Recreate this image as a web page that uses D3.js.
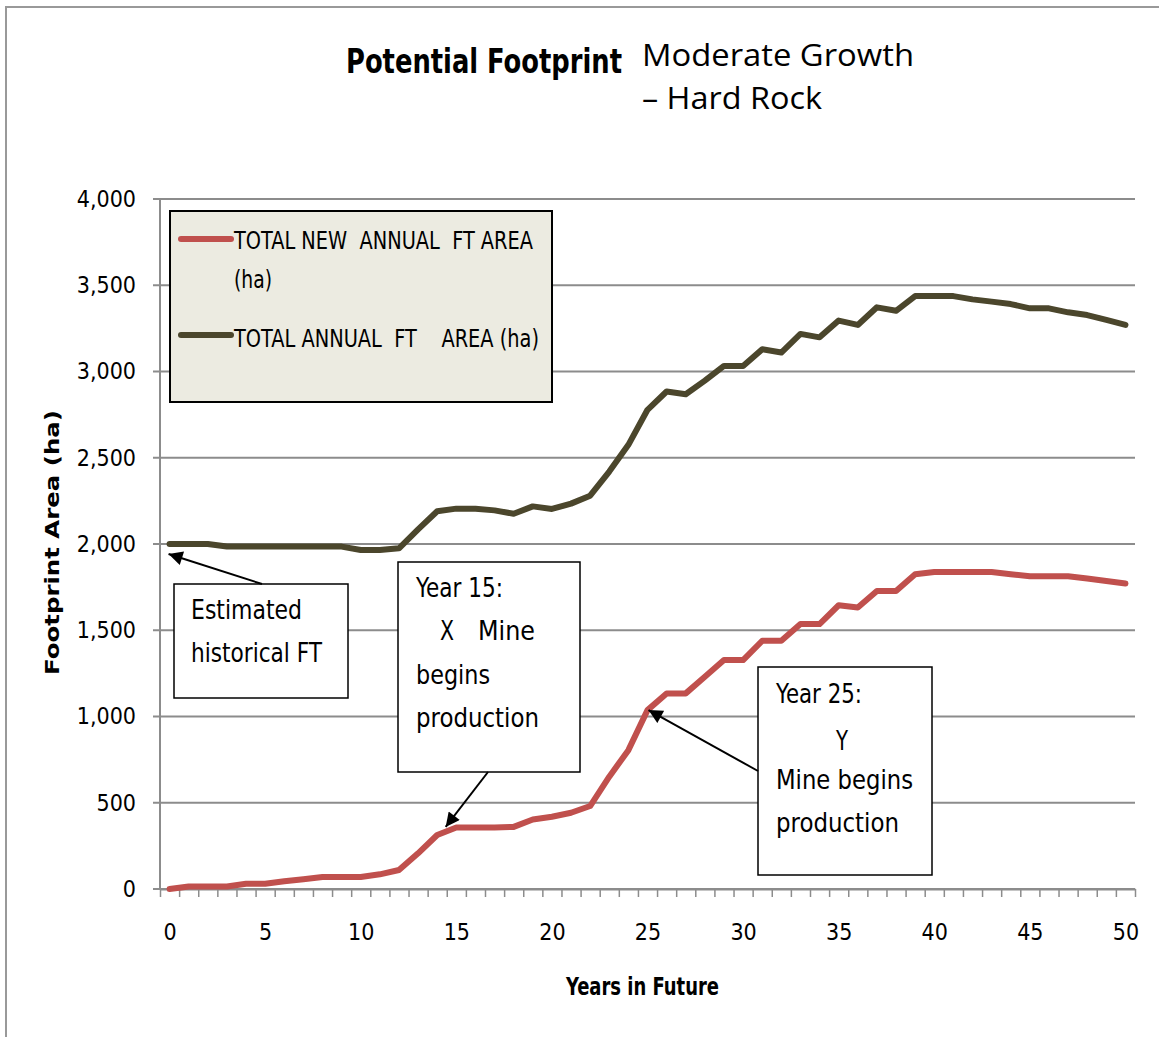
<!DOCTYPE html>
<html>
<head>
<meta charset="utf-8">
<script src="https://cdn.jsdelivr.net/npm/d3@7/dist/d3.min.js"></script>
<style>
  body { margin: 0; background: #fff; }
  .narrow { font-family: "Liberation Sans Narrow", "Arial Narrow", "DejaVu Sans Condensed", sans-serif; }
</style>
</head>
<body>
<div id="chart"></div>
<script>
const years = d3.range(0, 51);

const newAnnualArea = [
  0, 15, 15, 15, 30, 30, 45, 57, 70, 70,
  70, 85, 110, 207, 313, 357, 357, 357, 360, 403,
  419, 442, 481, 651, 805, 1037, 1134, 1134, 1230, 1327,
  1327, 1439, 1439, 1536, 1536, 1645, 1632, 1728, 1728, 1825,
  1838, 1838, 1838, 1838, 1825, 1813, 1813, 1813, 1800, 1786,
  1771
];

const totalAnnualArea = [
  2000, 2000, 2000, 1985, 1985, 1985, 1985, 1985, 1985, 1985,
  1965, 1965, 1975, 2085, 2190, 2205, 2205, 2195, 2175, 2218,
  2203, 2234, 2280, 2420, 2575, 2778, 2884, 2868, 2947, 3032,
  3032, 3129, 3110, 3218, 3198, 3295, 3270, 3372, 3352, 3437,
  3437, 3437, 3418, 3405, 3391, 3366, 3366, 3343, 3327, 3299,
  3270
];

const yTicks = [0, 500, 1000, 1500, 2000, 2500, 3000, 3500, 4000];
const xTicks = [0, 5, 10, 15, 20, 25, 30, 35, 40, 45, 50];

const seriesNames = ["TOTAL NEW  ANNUAL  FT AREA", "TOTAL ANNUAL  FT    AREA (ha)"];

const width = 1159, height = 1037;
const red = "#c0504d", olive = "#4b462c", grid = "#8c8c8c";

// squeeze text to the width it has in the picture
function fit(sel, w) {
  return sel.attr("textLength", w).attr("lengthAdjust", "spacingAndGlyphs");
}

const svg = d3.select("#chart")
  .append("svg")
  .attr("width", width)
  .attr("height", height);

// outer frame (top + left only visible)
svg.append("path")
  .attr("d", "M6,1037 V7 H1159")
  .attr("fill", "none")
  .attr("stroke", "#999")
  .attr("stroke-width", 2);

const x = d3.scaleLinear().domain([-0.5, 50.5]).range([160, 1135]);
const y = d3.scaleLinear().domain([0, 4000]).range([889, 199]);

// gridlines
svg.append("g")
  .selectAll("line")
  .data(yTicks)
  .enter()
  .append("line")
  .attr("x1", 153)
  .attr("x2", x(50.5))
  .attr("y1", d => y(d))
  .attr("y2", d => y(d))
  .attr("stroke", grid)
  .attr("stroke-width", 2);

// y axis line
svg.append("line")
  .attr("x1", x(-0.5)).attr("x2", x(-0.5))
  .attr("y1", y(4000)).attr("y2", y(0))
  .attr("stroke", grid).attr("stroke-width", 2);

// x axis with minor ticks between categories
const xAxis = svg.append("g")
  .attr("transform", `translate(0,${y(0)})`)
  .call(d3.axisBottom(x)
    .tickValues(d3.range(-0.5, 51, 1))
    .tickFormat("")
    .tickSize(8)
    .tickSizeOuter(0));
xAxis.select(".domain").attr("stroke", grid).attr("stroke-width", 2);
xAxis.selectAll(".tick line").attr("stroke", grid).attr("stroke-width", 1.5);

const xLabels = svg.append("g")
  .attr("transform", `translate(0,${y(0)})`)
  .call(d3.axisBottom(x).tickValues(xTicks).tickSize(0).tickPadding(35));
xLabels.select(".domain").remove();
xLabels.selectAll("text")
  .attr("class", "narrow")
  .attr("font-size", 23)
  .attr("fill", "#000");

const yLabels = svg.append("g")
  .attr("transform", `translate(${x(-0.5)},0)`)
  .call(d3.axisLeft(y).tickValues(yTicks).tickFormat(d3.format(",")).tickSize(0).tickPadding(24));
yLabels.select(".domain").remove();
yLabels.selectAll("text")
  .attr("class", "narrow")
  .attr("font-size", 23)
  .attr("fill", "#000");

// lines
const line = d3.line()
  .x((d, i) => x(years[i]))
  .y(d => y(d));

svg.append("path")
  .datum(totalAnnualArea)
  .attr("d", line)
  .attr("fill", "none")
  .attr("stroke", olive)
  .attr("stroke-width", 6)
  .attr("stroke-linejoin", "round")
  .attr("stroke-linecap", "round");

svg.append("path")
  .datum(newAnnualArea)
  .attr("d", line)
  .attr("fill", "none")
  .attr("stroke", red)
  .attr("stroke-width", 6)
  .attr("stroke-linejoin", "round")
  .attr("stroke-linecap", "round");

// legend
const legend = svg.append("g");
legend.append("rect")
  .attr("x", 170).attr("y", 211)
  .attr("width", 382).attr("height", 191)
  .attr("fill", "#ecebe1")
  .attr("stroke", "#000")
  .attr("stroke-width", 2);

legend.append("line")
  .attr("x1", 181).attr("x2", 231).attr("y1", 239).attr("y2", 239)
  .attr("stroke", red).attr("stroke-width", 6).attr("stroke-linecap", "round");
legend.append("line")
  .attr("x1", 181).attr("x2", 231).attr("y1", 335).attr("y2", 335)
  .attr("stroke", olive).attr("stroke-width", 6).attr("stroke-linecap", "round");

fit(legend.append("text").attr("class", "narrow")
  .attr("x", 234).attr("y", 249).attr("font-size", 25)
  .style("white-space", "pre")
  .text(seriesNames[0]), 299);
fit(legend.append("text").attr("class", "narrow")
  .attr("x", 234).attr("y", 288).attr("font-size", 25)
  .text("(ha)"), 38);
fit(legend.append("text").attr("class", "narrow")
  .attr("x", 234).attr("y", 347).attr("font-size", 25)
  .style("white-space", "pre")
  .text(seriesNames[1]), 305);

// title
fit(svg.append("text").attr("class", "narrow")
  .attr("x", 346).attr("y", 73)
  .attr("font-size", 34).attr("font-weight", "bold")
  .text("Potential Footprint"), 276);
fit(svg.append("text")
  .attr("x", 642).attr("y", 66)
  .attr("font-family", "'Open Sans', 'Noto Sans', sans-serif")
  .attr("font-size", 31)
  .text("Moderate Growth"), 272);
fit(svg.append("text")
  .attr("x", 642).attr("y", 109)
  .attr("font-family", "'Open Sans', 'Noto Sans', sans-serif")
  .attr("font-size", 31)
  .text("– Hard Rock"), 180);

// axis titles
fit(svg.append("text")
  .attr("transform", `translate(59,${(y(0) + y(4000)) / 2 - 1}) rotate(-90)`)
  .attr("x", -132)
  .attr("font-family", "'DejaVu Sans', Verdana, sans-serif")
  .attr("font-size", 20).attr("font-weight", "bold")
  .text("Footprint Area (ha)"), 265);
fit(svg.append("text").attr("class", "narrow")
  .attr("x", 566).attr("y", 995)
  .attr("font-size", 24).attr("font-weight", "bold")
  .text("Years in Future"), 153);

// annotations
svg.append("defs").append("marker")
  .attr("id", "arrow")
  .attr("viewBox", "0 0 10 10")
  .attr("refX", 10).attr("refY", 5)
  .attr("markerWidth", 16).attr("markerHeight", 14)
  .attr("markerUnits", "userSpaceOnUse")
  .attr("orient", "auto")
  .append("path")
  .attr("d", "M0,0 L10,5 L0,10 z")
  .attr("fill", "#000");

const notes = [
  { box: [174, 584, 174, 114],
    lines: [[191, 619, "Estimated", 111], [191, 662, "historical FT", 131]],
    from: [262, 584], to: [0, 2000], shift: [-1, 10] },
  { box: [398, 562, 182, 210],
    lines: [[416, 597, "Year 15:", 87], [440, 640, "X", 14], [478, 640, "Mine", 57], [416, 684, "begins", 74], [416, 727, "production", 123]],
    from: [488, 772], to: [14.6, 360], shift: [-3, 0] },
  { box: [758, 667, 174, 208],
    lines: [[776, 703, "Year 25:", 86], [836, 750, "Y", 12], [776, 789, "Mine begins", 137], [776, 832, "production", 123]],
    from: [758, 771], to: [25, 1037], shift: [1, 0] }
];

notes.forEach(n => {
  svg.append("rect")
    .attr("x", n.box[0]).attr("y", n.box[1])
    .attr("width", n.box[2]).attr("height", n.box[3])
    .attr("fill", "#fff").attr("stroke", "#000").attr("stroke-width", 1.5);
  n.lines.forEach(l => {
    fit(svg.append("text").attr("class", "narrow")
      .attr("x", l[0]).attr("y", l[1])
      .attr("font-size", 27)
      .text(l[2]), l[3]);
  });
  const tx = x(n.to[0]) + n.shift[0], ty = y(n.to[1]) + n.shift[1];
  svg.append("line")
    .attr("x1", n.from[0]).attr("y1", n.from[1])
    .attr("x2", tx).attr("y2", ty)
    .attr("stroke", "#000").attr("stroke-width", 2)
    .attr("marker-end", "url(#arrow)");
});
</script>
</body>
</html>
